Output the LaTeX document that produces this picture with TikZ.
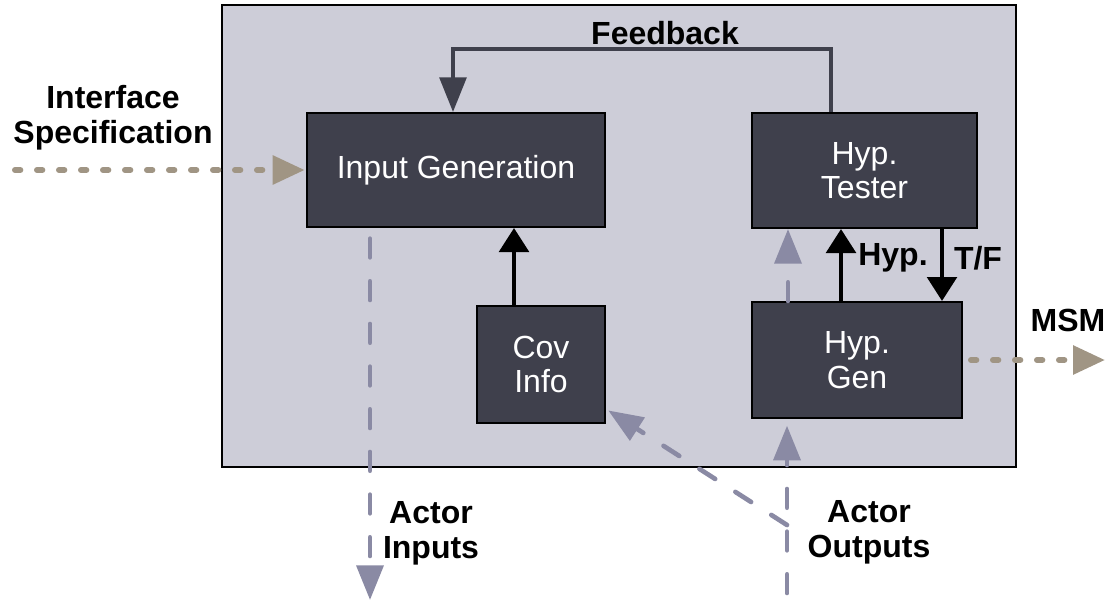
\documentclass[tikz,border=0pt]{standalone}
\usepackage{fontspec}
\setmainfont{Liberation Sans}
\usepackage{tikz}
\usetikzlibrary{arrows.meta, positioning, calc}
\definecolor{boxgray}{HTML}{CDCDD8}
\definecolor{blockdark}{HTML}{3F404C}
\definecolor{flowgray}{HTML}{8A8AA4}
\definecolor{specbrown}{HTML}{A09584}

\begin{document}
\begin{tikzpicture}[x=0.75pt, y=-0.75pt,
  block/.style={draw=black, line width=1.5pt, fill=blockdark, text=white, align=center, inner sep=0pt, font=\fontsize{24}{26}\selectfont},
  lbl/.style={align=center, font=\fontsize{24}{26}\selectfont\bfseries},
  ctrl/.style={line width=3.5pt, -{Triangle[length=18pt, width=22pt]}},
  fbk/.style={draw=blockdark, line width=3pt, -{Triangle[length=26pt, width=20pt]}},
  flow/.style={draw=flowgray, line width=3.5pt, line cap=round, dash pattern=on 14pt off 18pt, -{Triangle[length=26pt, width=20pt]}},
  spec/.style={draw=specbrown, line width=4.5pt, line cap=round, dash pattern=on 4pt off 12.5pt, -{Triangle[length=24pt, width=21pt]}}]
\useasboundingbox (0,0) rectangle (1112,602);

% Frame
\node[draw=black, line width=1.5pt, fill=boxgray, inner sep=0pt, minimum width=595.5pt, minimum height=346.5pt] (frame) at (619,236) {};

% Blocks
\node[block, minimum width=223.5pt, minimum height=85.5pt] (ingen) at (456,170) {Input Generation};
\node[block, minimum width=168.75pt, minimum height=86.25pt] (tester) at (864.5,170.5) {Hyp.\\Tester};
\node[block, minimum width=96pt, minimum height=87.75pt] (cov) at (541,364.5) {Cov\\Info};
\node[block, minimum width=157.5pt, minimum height=87pt] (gen) at (857,360) {Hyp.\\Gen};

% Free ends
\coordinate (specstart) at (15,170);
\coordinate (msmend) at (1105,360);
\coordinate (ainend) at (370,600);
\coordinate (aoutbot) at (787,593);
\coordinate (aoutbend) at (787,525);
\coordinate (covup) at ($(cov.north west)+(38,0)$);
\coordinate (hypup) at ($(gen.north west)+(90,0)$);
\coordinate (tfdown) at ($(tester.south west)+(191,0)$);
\coordinate (genflow) at ($(gen.north west)+(37,0)$);

% Control arrows
\draw[ctrl] (covup) -- (covup |- ingen.south);
\draw[ctrl] (hypup) -- (hypup |- tester.south);
\draw[ctrl] (tfdown) -- (tfdown |- gen.north);
\draw[fbk] ($(tester.north west)+(80,0)$) -- ++(0,-63) -| ($(ingen.north)+(-3,0)$);

% Actor data
\draw[flow] (genflow) -- (genflow |- tester.south);
\draw[flow, shorten <=8pt] (ainend |- ingen.south) -- (ainend);
\draw[flow, shorten >=5pt] (aoutbot) -- (aoutbot |- gen.south);
\draw[flow, shorten >=2pt] (aoutbend) -- ($(cov.south east)+(0,-15)$);

% Spec in, model out
\draw[spec, shorten >=1pt] (specstart) -- (ingen.west);
\draw[spec, shorten <=6pt] (gen.east) -- (msmend);

% Labels
\node[lbl] (ifspec) at (113,118) {Interface\\Specification};
\node[lbl] (fblbl) at (665,33) {Feedback};
\node[lbl] (hyplbl) at (893,258) {Hyp.};
\node[lbl] (tflbl) at (978,258) {T/F};
\node[lbl] (msmlbl) at (1068,320) {MSM};
\node[lbl] (actin) at (431,533) {Actor\\Inputs};
\node[lbl] (actout) at (869,532) {Actor\\Outputs};
\end{tikzpicture}
\end{document}
